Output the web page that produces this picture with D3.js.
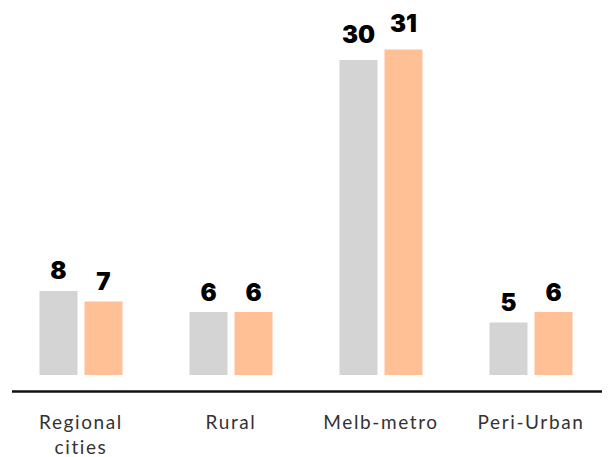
<!DOCTYPE html>
<html>
<head>
<meta charset="utf-8">
<script src="https://cdn.jsdelivr.net/npm/d3@7"></script>
<style>
html,body{margin:0;padding:0;background:#fff;}
</style>
</head>
<body>
<script>
const categories = ["Regional cities", "Rural", "Melb-metro", "Peri-Urban"];
const seriesNames = ["Series A", "Series B"];
const seriesA = [8, 6, 30, 5];
const seriesB = [7, 6, 31, 6];
const seriesColors = ["#d4d4d4", "#ffc096"];

const W = 613, H = 457;
const svg = d3.select("body").append("svg").attr("width", W).attr("height", H);

const x0 = d3.scaleBand().domain(categories).range([6, 606]).padding(0);
const x1 = d3.scaleBand().domain(seriesNames).range([-41.5, 41.5]).paddingInner(0.1556);
const y = d3.scaleLinear().domain([0, 31]).range([375, 49.5]);
const labelY = d3.scaleLinear().domain([0, 31]).range([365, 32]);

const data = categories.map((c, i) => ({cat: c, vals: [seriesA[i], seriesB[i]]}));

const g = svg.selectAll("g.grp").data(data).enter().append("g")
  .attr("class", "grp")
  .attr("transform", d => `translate(${x0(d.cat) + x0.bandwidth()/2},0)`);

g.selectAll("rect").data(d => d.vals.map((v, j) => ({s: seriesNames[j], v, j})))
  .enter().append("rect")
  .attr("x", d => x1(d.s))
  .attr("width", x1.bandwidth())
  .attr("y", d => y(d.v))
  .attr("height", d => y(0) - y(d.v))
  .attr("fill", d => seriesColors[d.j]);

g.selectAll("text.val").data(d => d.vals.map((v, j) => ({s: seriesNames[j], v, j})))
  .enter().append("text")
  .attr("class", "val")
  .attr("x", d => x1(d.s) + x1.bandwidth()/2)
  .attr("y", d => labelY(d.v))
  .attr("text-anchor", "middle")
  .attr("font-family", "Inter, 'DejaVu Sans', sans-serif")
  .attr("font-weight", 900)
  .attr("font-size", 24)
  .attr("fill", "#000")
  .text(d => d.v);

// axis baseline
const axis = d3.axisBottom(x0).tickSize(0).tickFormat("");
const ax = svg.append("g").attr("transform", "translate(0,391.5)").call(axis);
ax.select(".domain").attr("d", "M12,0H602").attr("stroke", "#111").attr("stroke-width", 2.5);

// category labels
const lab = svg.append("g");
categories.forEach(c => {
  const words = c === "Regional cities" ? ["Regional", "cities"] : [c];
  const t = lab.append("text")
    .attr("x", x0(c) + x0.bandwidth()/2)
    .attr("y", 429)
    .attr("text-anchor", "middle")
    .attr("font-family", "Lato, 'Open Sans', sans-serif")
    .attr("font-size", 19)
    .attr("letter-spacing", 1.6)
    .attr("fill", "#333");
  words.forEach((w, k) => {
    t.append("tspan").attr("x", x0(c) + x0.bandwidth()/2).attr("dy", k === 0 ? 0 : 24.5).text(w);
  });
});
</script>
</body>
</html>
